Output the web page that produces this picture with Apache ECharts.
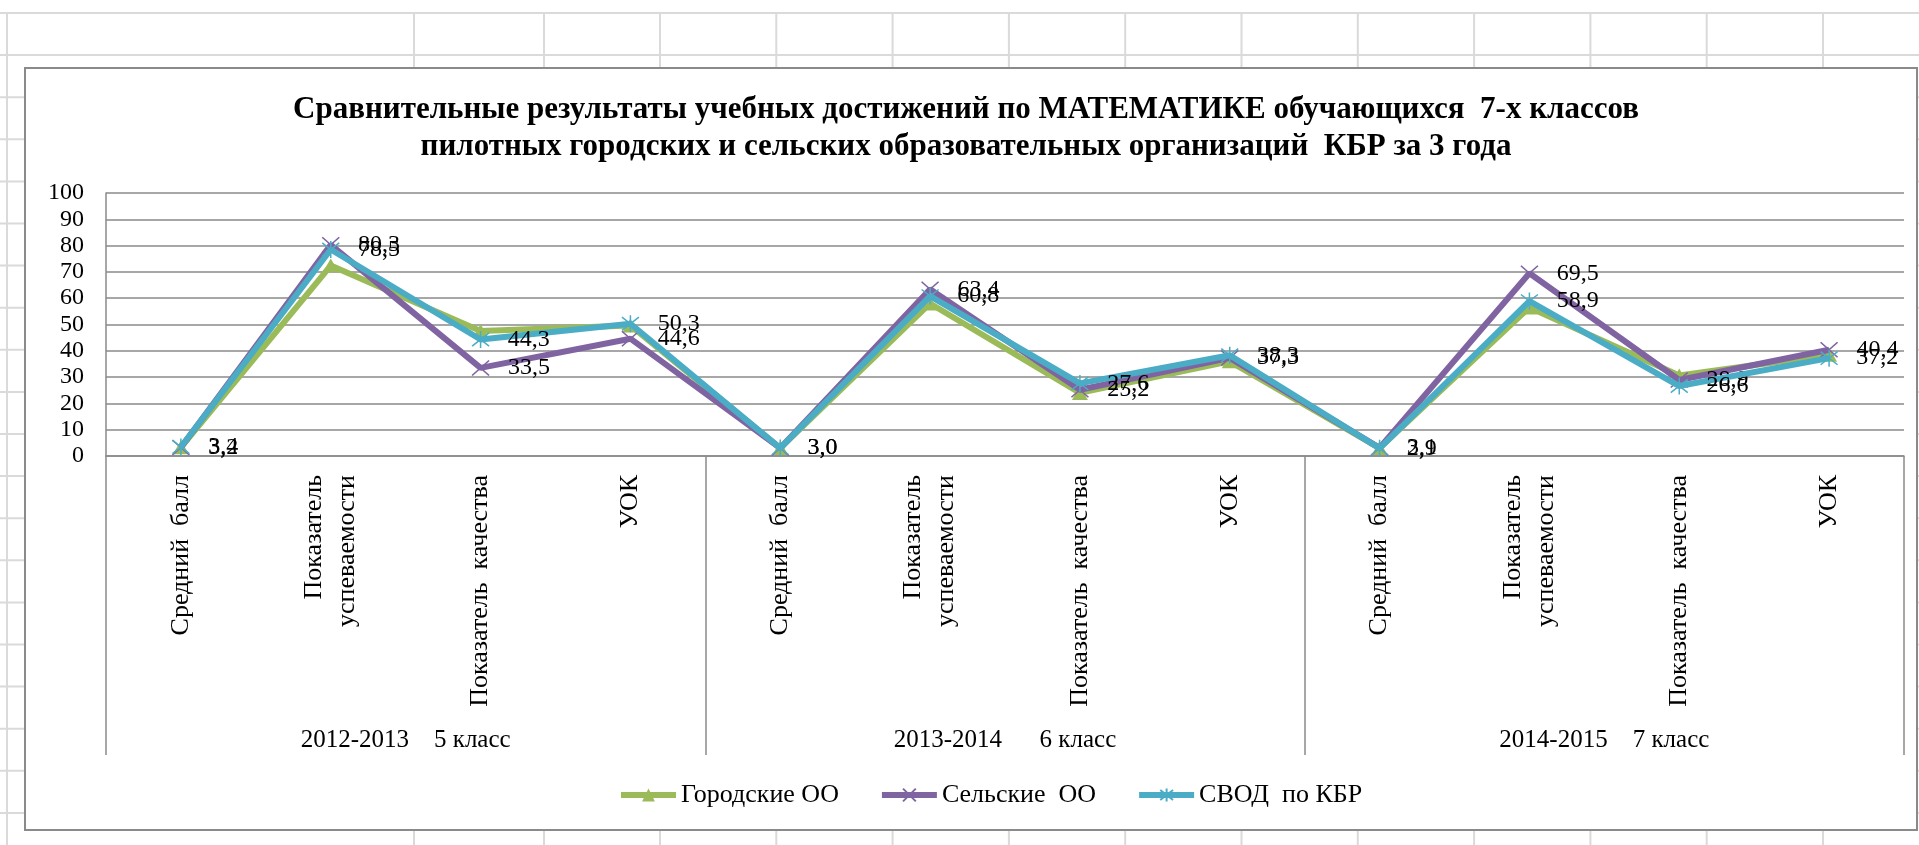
<!DOCTYPE html>
<html>
<head>
<meta charset="utf-8">
<script src="https://cdn.jsdelivr.net/npm/echarts@6/dist/echarts.min.js"></script>
<style>
  html, body { margin: 0; padding: 0; background: #fff; }
  #chart { width: 1919px; height: 845px; }
</style>
</head>
<body>
<div id="chart"></div>
<script>
// school years and the four indicators shown for each
var years = ['2012-2013    5 класс', '2013-2014      6 класс', '2014-2015    7 класс'];
var indicators = ['Средний  балл', 'Показатель\nуспеваемости', 'Показатель  качества', 'УОК'];
var categories = [];
years.forEach(function () { categories = categories.concat(indicators); });

var seriesNames = ['Городские ОО', 'Сельские  ОО', 'СВОД  по КБР'];
var gorodskie = [3.3, 72.4, 47.5, 49.6, 3.0, 58.0, 24.0, 36.0, 3.0, 56.5, 30.6, 38.5];
var selskie = [3.2, 80.3, 33.5, 44.6, 3.0, 63.4, 25.2, 37.3, 3.1, 69.5, 28.9, 40.4];
var svod = [3.4, 78.5, 44.3, 50.3, 3.0, 60.8, 27.6, 38.3, 2.9, 58.9, 26.6, 37.2];

var yTicks = [0, 10, 20, 30, 40, 50, 60, 70, 80, 90, 100];

var serif = "'Liberation Serif', 'Times New Roman', serif";

// spreadsheet cells behind the chart object
var sheet = [];
for (var r = 13; r < 845; r += 42.1) {
    sheet.push({ type: 'line', shape: { x1: 0, y1: r, x2: 1919, y2: r }, style: { stroke: '#dadada', lineWidth: 2 } });
}
var cols = [7, 414, 544];
for (var c = 660; c < 1919; c += 116.3) cols.push(c);
cols.forEach(function (x) {
    sheet.push({ type: 'line', shape: { x1: x, y1: 13, x2: x, y2: 845 }, style: { stroke: '#dadada', lineWidth: 2 } });
});
sheet.push({ type: 'rect', shape: { x: 25, y: 68, width: 1892, height: 762 }, style: { fill: '#fff', stroke: '#8a8a8a', lineWidth: 2 } });

var labelFmt = function (p) { return p.value.toFixed(1).replace('.', ','); };

var chart = echarts.init(document.getElementById('chart'));
var option = {
    animation: false,
    graphic: [{ type: 'group', z: -10, children: sheet }],
    title: {
        text: 'Сравнительные результаты учебных достижений по МАТЕМАТИКЕ обучающихся  7-х классов\nпилотных городских и сельских образовательных организаций  КБР за 3 года',
        left: 961,
        top: 86,
        textAlign: 'center',
        textStyle: { fontFamily: serif, fontWeight: 'bold', fontSize: 31, lineHeight: 37, color: '#000' }
    },
    legend: {
        data: seriesNames,
        left: 613,
        top: 777,
        itemWidth: 55,
        itemHeight: 16,
        itemGap: 40,
        lineStyle: { width: 6 },
        textStyle: { fontFamily: serif, fontSize: 26, color: '#000' }
    },
    grid: { left: 106, right: 15, top: 193, bottom: 389, containLabel: false },
    xAxis: [{
        type: 'category',
        data: categories,
        boundaryGap: true,
        axisLine: { show: true, lineStyle: { color: '#8a8a8a', width: 1.5 } },
        axisTick: { show: false },
        axisLabel: {
            interval: 0, rotate: 90, margin: 19,
            fontFamily: serif, fontSize: 26, color: '#000', lineHeight: 33
        }
    }, {
        type: 'category',
        data: years,
        position: 'bottom',
        boundaryGap: true,
        axisLine: { show: false },
        axisTick: { show: true, length: 299, lineStyle: { color: '#8a8a8a', width: 1.5 } },
        axisLabel: { interval: 0, margin: 272, fontFamily: serif, fontSize: 25, color: '#000' }
    }],
    yAxis: {
        type: 'value',
        min: 0,
        max: 100,
        interval: 10,
        axisLine: { show: true, lineStyle: { color: '#8a8a8a', width: 1.5 } },
        axisTick: { show: false },
        splitLine: { lineStyle: { color: '#8a8a8a', width: 1.5 } },
        axisLabel: {
            margin: 22, fontFamily: serif, fontSize: 24, color: '#000',
            formatter: function (v) { return yTicks.indexOf(v) >= 0 ? String(v) : ''; }
        }
    },
    series: [{
        name: seriesNames[0],
        type: 'line',
        data: gorodskie,
        color: '#9BBB59',
        symbol: 'triangle',
        symbolSize: [16, 14],
        showAllSymbol: true,
        lineStyle: { width: 6 },
        z: 2
    }, {
        name: seriesNames[1],
        type: 'line',
        data: selskie,
        color: '#8064A2',
        symbol: 'path://M0,0L16,14M16,0L0,14',
        symbolSize: [17, 15],
        showAllSymbol: true,
        itemStyle: { borderColor: '#8064A2', borderWidth: 1.5 },
        lineStyle: { width: 6 },
        label: {
            show: true, position: 'right', distance: 18,
            fontFamily: serif, fontSize: 24, color: '#000',
            formatter: labelFmt
        },
        z: 3
    }, {
        name: seriesNames[2],
        type: 'line',
        data: svod,
        color: '#4BACC6',
        symbol: 'path://M0,0L16,14M16,0L0,14M8,-2L8,16',
        symbolSize: [17, 17],
        showAllSymbol: true,
        itemStyle: { borderColor: '#4BACC6', borderWidth: 1.5 },
        lineStyle: { width: 6 },
        label: {
            show: true, position: 'right', distance: 18,
            fontFamily: serif, fontSize: 24, color: '#000',
            formatter: labelFmt
        },
        z: 4
    }]
};
chart.setOption(option);
</script>
</body>
</html>
